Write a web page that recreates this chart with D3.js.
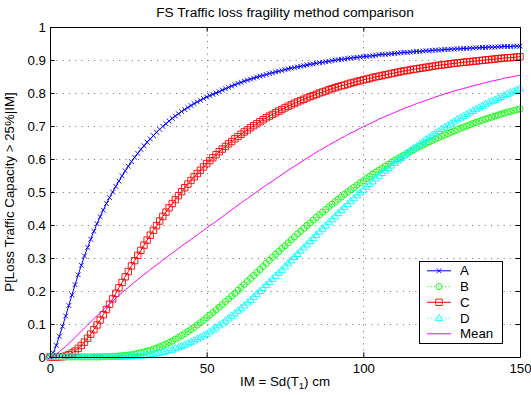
<!DOCTYPE html>
<html>
<head>
<meta charset="utf-8">
<script src="https://cdn.jsdelivr.net/npm/d3@7"></script>
<style>
  html, body { margin: 0; padding: 0; background: #fff; }
  svg { display: block; font-family: "Liberation Sans", Arial, Helvetica, sans-serif; }
</style>
</head>
<body>
<svg id="chart" width="531" height="395"></svg>
<script>
// Intensity measure samples, Sd(T1) in cm
const im = d3.range(0, 151);

// Probability of losing more than 25% of traffic capacity, per method
const methodA = [0,0.012,0.035,0.063,0.093,0.124,0.156,0.188,0.219,0.249,
0.278,0.306,0.332,0.357,0.381,0.404,0.425,0.445,0.465,0.483,
0.500,0.517,0.533,0.549,0.564,0.578,0.592,0.605,0.617,0.629,
0.640,0.651,0.661,0.671,0.681,0.690,0.699,0.707,0.715,0.723,
0.730,0.737,0.744,0.750,0.756,0.762,0.768,0.773,0.778,0.783,
0.788,0.792,0.796,0.800,0.804,0.809,0.813,0.817,0.821,0.825,
0.829,0.832,0.836,0.839,0.842,0.845,0.848,0.851,0.853,0.856,
0.859,0.861,0.864,0.866,0.868,0.871,0.873,0.875,0.877,0.879,
0.881,0.883,0.885,0.887,0.888,0.890,0.892,0.893,0.895,0.896,
0.898,0.899,0.901,0.902,0.903,0.905,0.906,0.907,0.908,0.909,
0.910,0.911,0.912,0.913,0.914,0.916,0.917,0.917,0.918,0.919,
0.920,0.921,0.922,0.923,0.923,0.924,0.925,0.926,0.926,0.927,
0.928,0.928,0.929,0.930,0.930,0.931,0.932,0.932,0.933,0.933,
0.934,0.934,0.935,0.935,0.936,0.936,0.937,0.937,0.938,0.938,
0.939,0.939,0.939,0.940,0.940,0.941,0.941,0.941,0.942,0.942,
0.942];

const methodB = [0,0,0,0,0,0,0,0,0,0,
0,0,0,0,0,0,0,0.001,0.001,0.001,
0.002,0.002,0.003,0.004,0.005,0.006,0.007,0.009,0.011,0.013,
0.015,0.018,0.020,0.024,0.027,0.031,0.035,0.039,0.044,0.048,
0.054,0.059,0.065,0.071,0.077,0.083,0.090,0.097,0.104,0.111,
0.119,0.127,0.135,0.143,0.151,0.159,0.168,0.176,0.185,0.193,
0.202,0.211,0.220,0.229,0.238,0.247,0.256,0.265,0.274,0.284,
0.293,0.302,0.311,0.320,0.329,0.337,0.346,0.355,0.364,0.373,
0.381,0.390,0.398,0.406,0.415,0.423,0.431,0.439,0.447,0.455,
0.463,0.470,0.478,0.485,0.493,0.500,0.507,0.514,0.521,0.528,
0.534,0.541,0.547,0.554,0.560,0.566,0.572,0.578,0.584,0.590,
0.596,0.601,0.607,0.612,0.618,0.623,0.628,0.633,0.638,0.642,
0.647,0.652,0.656,0.661,0.665,0.669,0.673,0.677,0.681,0.685,
0.689,0.693,0.697,0.700,0.704,0.708,0.711,0.714,0.718,0.721,
0.724,0.727,0.730,0.733,0.736,0.739,0.742,0.744,0.747,0.749,
0.752];

const methodC = [0,0,0,0.001,0.001,0.003,0.007,0.012,0.018,0.026,
0.035,0.045,0.057,0.069,0.083,0.097,0.112,0.128,0.144,0.160,
0.176,0.193,0.210,0.226,0.243,0.259,0.276,0.292,0.308,0.323,
0.339,0.354,0.369,0.384,0.398,0.412,0.426,0.439,0.452,0.465,
0.477,0.489,0.501,0.513,0.524,0.535,0.546,0.556,0.566,0.576,
0.586,0.595,0.604,0.613,0.622,0.630,0.638,0.646,0.653,0.661,
0.668,0.675,0.682,0.688,0.695,0.701,0.707,0.713,0.719,0.725,
0.730,0.735,0.740,0.745,0.750,0.755,0.760,0.764,0.769,0.773,
0.777,0.781,0.785,0.789,0.792,0.796,0.800,0.803,0.806,0.810,
0.813,0.816,0.819,0.822,0.824,0.827,0.830,0.832,0.835,0.837,
0.840,0.842,0.844,0.847,0.849,0.851,0.853,0.855,0.857,0.859,
0.861,0.863,0.865,0.867,0.868,0.870,0.872,0.873,0.875,0.876,
0.878,0.879,0.881,0.882,0.884,0.885,0.886,0.887,0.889,0.890,
0.891,0.892,0.893,0.894,0.895,0.896,0.897,0.898,0.899,0.900,
0.901,0.902,0.903,0.904,0.905,0.906,0.907,0.907,0.908,0.909,
0.910];

const methodD = [0,0,0,0,0,0,0,0,0,0,
0,0,0,0,0,0,0,0,0,0,
0,0,0.001,0.001,0.001,0.002,0.002,0.003,0.003,0.004,
0.005,0.006,0.008,0.009,0.011,0.013,0.015,0.017,0.020,0.022,
0.026,0.029,0.033,0.037,0.041,0.045,0.050,0.055,0.060,0.065,
0.070,0.077,0.083,0.089,0.096,0.102,0.110,0.117,0.125,0.132,
0.140,0.148,0.156,0.165,0.173,0.182,0.191,0.200,0.209,0.218,
0.227,0.236,0.246,0.255,0.264,0.274,0.284,0.293,0.303,0.312,
0.322,0.332,0.341,0.351,0.360,0.370,0.380,0.389,0.398,0.408,
0.417,0.426,0.436,0.445,0.454,0.463,0.472,0.481,0.490,0.498,
0.507,0.516,0.524,0.532,0.541,0.549,0.557,0.565,0.572,0.580,
0.588,0.595,0.603,0.610,0.617,0.625,0.632,0.638,0.645,0.652,
0.659,0.665,0.672,0.678,0.684,0.691,0.696,0.702,0.708,0.714,
0.720,0.725,0.730,0.736,0.741,0.746,0.751,0.756,0.761,0.766,
0.771,0.775,0.779,0.784,0.788,0.793,0.797,0.801,0.805,0.809,
0.813];

const methodMean = [0,0.003,0.009,0.016,0.024,0.032,0.041,0.050,0.059,0.069,
0.078,0.088,0.097,0.107,0.116,0.125,0.134,0.143,0.152,0.161,
0.169,0.178,0.187,0.195,0.203,0.211,0.219,0.227,0.235,0.242,
0.250,0.257,0.265,0.272,0.279,0.286,0.294,0.300,0.308,0.315,
0.322,0.329,0.336,0.343,0.349,0.356,0.363,0.370,0.377,0.384,
0.391,0.398,0.404,0.411,0.418,0.425,0.432,0.439,0.446,0.453,
0.460,0.467,0.474,0.480,0.487,0.494,0.500,0.507,0.514,0.521,
0.527,0.533,0.540,0.546,0.553,0.559,0.566,0.572,0.578,0.584,
0.590,0.596,0.602,0.608,0.614,0.620,0.626,0.631,0.637,0.642,
0.648,0.653,0.658,0.664,0.668,0.674,0.679,0.683,0.688,0.693,
0.698,0.702,0.707,0.711,0.716,0.721,0.725,0.729,0.733,0.737,
0.741,0.745,0.749,0.753,0.757,0.760,0.764,0.768,0.771,0.774,
0.778,0.781,0.784,0.788,0.791,0.794,0.797,0.800,0.803,0.806,
0.809,0.811,0.814,0.816,0.819,0.822,0.824,0.826,0.829,0.831,
0.834,0.836,0.838,0.840,0.842,0.845,0.847,0.848,0.850,0.852,
0.854];

const seriesNames = ["A", "B", "C", "D", "Mean"];
const xTicks = [0, 50, 100, 150];
const yTicks = [0, 0.1, 0.2, 0.3, 0.4, 0.5, 0.6, 0.7, 0.8, 0.9, 1];

const titleText = "FS Traffic loss fragility method comparison";
const yLabelText = "P[Loss Traffic Capacity > 25%|IM]";

// ---- layout ----
const svg = d3.select("#chart");
const FONT = 13.3;
const plot = { left: 50, right: 520, top: 27, bottom: 357 };

const x = d3.scaleLinear().domain([0, 150]).range([plot.left, plot.right]);
const y = d3.scaleLinear().domain([0, 1]).range([plot.bottom, plot.top]);

// marker shapes (MATLAB-like x, o, s, ^)
const markerPaths = {
  x: "M-2.4,-2.4L2.4,2.4M-2.4,2.4L2.4,-2.4",
  o: "M3.1,0A3.1,3.1 0 1,1 -3.1,0A3.1,3.1 0 1,1 3.1,0Z",
  s: "M-3.2,-3.2H3.2V3.2H-3.2Z",
  t: "M0,-3.9L3.6,2.5H-3.6Z"
};

const series = [
  { name: seriesNames[0], values: methodA, color: "#0000ff", dash: null, marker: "x" },
  { name: seriesNames[1], values: methodB, color: "#00ff00", dash: "1,2.6", marker: "o" },
  { name: seriesNames[2], values: methodC, color: "#ff0000", dash: null, marker: "s" },
  { name: seriesNames[3], values: methodD, color: "#00ffff", dash: "1,2.6", marker: "t" },
  { name: seriesNames[4], values: methodMean, color: "#ff00ff", dash: null, marker: null }
];

// ---- grid ----
const grid = svg.append("g").attr("class", "grid")
  .attr("stroke", "#444").attr("stroke-width", 0.8).attr("stroke-dasharray", "1,5.3");
grid.selectAll("line.gx").data(xTicks.filter(t => t > 0 && t < 150)).join("line")
  .attr("class", "gx")
  .attr("x1", d => Math.round(x(d)) + 0.5).attr("x2", d => Math.round(x(d)) + 0.5)
  .attr("y1", plot.bottom).attr("y2", plot.top);
grid.selectAll("line.gy").data(yTicks.filter(t => t > 0 && t < 1)).join("line")
  .attr("class", "gy")
  .attr("y1", d => Math.round(y(d)) + 0.5).attr("y2", d => Math.round(y(d)) + 0.5)
  .attr("x1", plot.left).attr("x2", plot.right);

// ---- curves ----
const line = d3.line().x((d, i) => x(im[i])).y(d => y(d));
const curves = svg.append("g").attr("class", "curves");
series.forEach(s => {
  const g = curves.append("g");
  g.append("path")
    .attr("d", line(s.values))
    .attr("fill", "none")
    .attr("stroke", s.color)
    .attr("stroke-width", 1)
    .attr("stroke-dasharray", s.dash);
  if (s.marker) {
    g.selectAll("path.m").data(s.values).join("path")
      .attr("class", "m")
      .attr("transform", (d, i) => `translate(${x(im[i])},${y(d)})`)
      .attr("d", markerPaths[s.marker])
      .attr("fill", "none")
      .attr("stroke", s.color)
      .attr("stroke-width", 0.9);
  }
});

// ---- axes (box with inward ticks) ----
const tickLen = 4.7;
function styleAxis(g) {
  g.attr("font-size", FONT).attr("font-family", null);
  g.selectAll("path.domain").attr("stroke", "#000");
  g.selectAll(".tick line").attr("stroke", "#000");
  g.selectAll(".tick text").attr("fill", "#000");
}
svg.append("g").attr("transform", `translate(0,${plot.bottom})`)
  .call(d3.axisBottom(x).tickValues(xTicks).tickSize(-tickLen).tickSizeOuter(0).tickPadding(7).tickFormat(d3.format("d")))
  .call(styleAxis);
svg.append("g").attr("transform", `translate(0,${plot.top})`)
  .call(d3.axisTop(x).tickValues(xTicks).tickSize(-tickLen).tickSizeOuter(0).tickFormat(""))
  .call(styleAxis);
svg.append("g").attr("transform", `translate(${plot.left},0)`)
  .call(d3.axisLeft(y).tickValues(yTicks).tickSize(-tickLen).tickSizeOuter(0).tickPadding(4).tickFormat(d => d3.format("~g")(d)))
  .call(styleAxis);
svg.append("g").attr("transform", `translate(${plot.right},0)`)
  .call(d3.axisRight(y).tickValues(yTicks).tickSize(-tickLen).tickSizeOuter(0).tickFormat(""))
  .call(styleAxis);

// ---- titles ----
svg.append("text")
  .attr("x", (plot.left + plot.right) / 2).attr("y", 17)
  .attr("text-anchor", "middle").attr("font-size", FONT + 0.4)
  .text(titleText);

const xl = svg.append("text")
  .attr("x", (plot.left + plot.right) / 2).attr("y", 386)
  .attr("text-anchor", "middle").attr("font-size", FONT);
xl.append("tspan").text("IM = Sd(T");
xl.append("tspan").attr("font-size", FONT * 0.72).attr("dy", 3).text("1");
xl.append("tspan").attr("dy", -3).text(") cm");

svg.append("text")
  .attr("transform", `translate(14,${(plot.top + plot.bottom) / 2}) rotate(-90)`)
  .attr("text-anchor", "middle").attr("font-size", FONT)
  .text(yLabelText);

// ---- legend ----
const lg = svg.append("g").attr("transform", "translate(419.5,261.5)");
lg.append("rect").attr("width", 83).attr("height", 82)
  .attr("fill", "#fff").attr("stroke", "#000").attr("stroke-width", 1);
series.forEach((s, i) => {
  const row = lg.append("g").attr("transform", `translate(0,${9.3 + i * 15.75})`);
  row.append("line").attr("x1", 7.5).attr("x2", 31.5).attr("y1", 0).attr("y2", 0)
    .attr("stroke", s.color).attr("stroke-width", 1).attr("stroke-dasharray", s.dash);
  if (s.marker) {
    row.append("path").attr("transform", "translate(19.5,0)")
      .attr("d", markerPaths[s.marker]).attr("fill", "none")
      .attr("stroke", s.color).attr("stroke-width", 0.9);
  }
  row.append("text").attr("x", 40.5).attr("y", 0).attr("dy", "0.35em")
    .attr("font-size", FONT).text(s.name);
});
</script>
</body>
</html>
